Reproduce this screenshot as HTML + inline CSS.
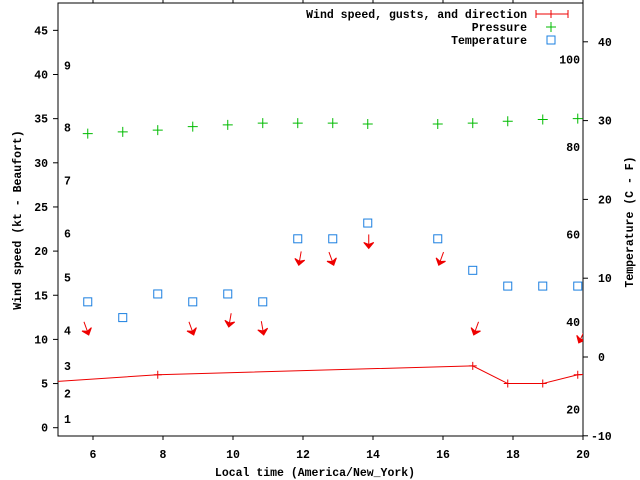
<!DOCTYPE html>
<html><head><meta charset="utf-8">
<style>
html,body{margin:0;padding:0;background:#fff;}
svg{display:block;}
text{font-family:"Liberation Mono","DejaVu Sans Mono",monospace;font-weight:bold;font-size:11.5px;fill:#000;}
</style></head>
<body>
<svg id="chart" width="640" height="480" xmlns="http://www.w3.org/2000/svg">
  <defs><clipPath id="plotclip"><rect x="58" y="3" width="525" height="433"/></clipPath></defs>
  <g id="grid"></g>
  <rect x="58" y="3" width="525" height="433" fill="none" stroke="#000" stroke-width="1"/>
  <g id="marks"></g>
  <text x="315" y="476" text-anchor="middle">Local time (America/New_York)</text>
  <text transform="translate(21,220) rotate(-90)" text-anchor="middle">Wind speed (kt - Beaufort)</text>
  <text transform="translate(633,222) rotate(-90)" text-anchor="middle">Temperature (C - F)</text>
  <g>
    <text x="527" y="18" text-anchor="end">Wind speed, gusts, and direction</text>
    <g>
      <line x1="536" y1="14" x2="568" y2="14" stroke="#e00" stroke-width="1"/>
      <line x1="536" y1="10" x2="536" y2="18" stroke="#e00"/>
      <line x1="568" y1="10" x2="568" y2="18" stroke="#e00"/>
      <line x1="551" y1="10" x2="551" y2="18" stroke="#e00"/>
    </g>
    <text x="527" y="31" text-anchor="end">Pressure</text>
    <g>
      <line x1="546" y1="27" x2="556" y2="27" stroke="#0b0"/><line x1="551" y1="22" x2="551" y2="32" stroke="#0b0"/>
    </g>
    <text x="527" y="44" text-anchor="end">Temperature</text>
    <rect x="547" y="36" width="8" height="8" fill="none" stroke="#1a7fe0"/>
  </g>
</svg>
<script>
const xTicks = [6, 8, 10, 12, 14, 16, 18, 20];
const yTicks = [0, 5, 10, 15, 20, 25, 30, 35, 40, 45];
const y2Ticks = [-10, 0, 10, 20, 30, 40];
const beaufortLabels = ["1","2","3","4","5","6","7","8","9"];
const beaufortKt = [1, 3.9, 7, 11, 17, 22, 28, 34, 41];
const fLabels = [20, 40, 60, 80, 100];
const windTimes = [4.85, 7.85, 16.85, 17.85, 18.85, 19.85, 20.85];
const windSpeeds = [5.2, 6, 7, 5, 5, 6, 6.3];
const windMarkerTimes = [7.85, 16.85, 17.85, 18.85, 19.85];
const windMarkerSpeeds = [6, 7, 5, 5, 6];
const pressTimes = [5.85, 6.85, 7.85, 8.85, 9.85, 10.85, 11.85, 12.85, 13.85, 15.85, 16.85, 17.85, 18.85, 19.85];
const pressValues = [33.3, 33.5, 33.7, 34.1, 34.3, 34.5, 34.5, 34.5, 34.4, 34.4, 34.5, 34.7, 34.9, 35.0];
const tempTimes = [5.85, 6.85, 7.85, 8.85, 9.85, 10.85, 11.85, 12.85, 13.85, 15.85, 16.85, 17.85, 18.85, 19.85];
const tempValues = [7, 5, 8, 7, 8, 7, 15, 15, 17, 15, 11, 9, 9, 9];
const arrowTimes = [5.85, 8.85, 9.85, 10.85, 11.85, 12.85, 13.85, 15.85, 16.85, 19.85];
const arrowKt = [10.5, 10.5, 11.4, 10.5, 18.4, 18.4, 20.3, 18.4, 10.5, 9.6];
const arrowDirDeg = [340, 340, 10, 350, 10, 340, 0, 20, 20, 25];

const X = t => 58 + (t - 5) * 35;
const Y = v => 427.7 - v * 8.83;
const Y2 = c => 357 - c * 7.88;
const NS = "http://www.w3.org/2000/svg";
const grid = document.getElementById('grid');
const marks = document.getElementById('marks');
function mk(tag, attrs, parent) {
  const e = document.createElementNS(NS, tag);
  for (const k in attrs) e.setAttribute(k, attrs[k]);
  parent.appendChild(e);
  return e;
}
xTicks.forEach(t => {
  const g = mk('g', {}, grid);
  
  
  mk('line', {x1: X(t), y1: 436, x2: X(t), y2: 440, stroke: '#000'}, g);
  mk('line', {x1: X(t), y1: 0, x2: X(t), y2: 3, stroke: '#000'}, g);
  const tx = mk('text', {x: X(t), y: 458, 'text-anchor': 'middle'}, g);
  tx.textContent = t;
});
yTicks.forEach(v => {
  const g = mk('g', {}, grid);
  
  
  mk('line', {x1: 53, y1: Y(v), x2: 58, y2: Y(v), stroke: '#000'}, g);
  const tx = mk('text', {x: 48, y: Y(v) + 4, 'text-anchor': 'end'}, g);
  tx.textContent = v;
});
y2Ticks.forEach(c => {
  const g = mk('g', {}, grid);
  
  
  mk('line', {x1: 583, y1: Y2(c), x2: 588, y2: Y2(c), stroke: '#000'}, g);
  const tx = mk('text', {x: c < 0 ? 591 : 598, y: Y2(c) + 4}, g);
  tx.textContent = c;
});
beaufortLabels.forEach((b, i) => {
  const tx = mk('text', {x: 64, y: Y(beaufortKt[i]) + 4}, grid);
  
  
  tx.textContent = b;
});
fLabels.forEach(f => {
  const tx = mk('text', {x: 580, y: Y2((f - 32) * 5 / 9) + 4, 'text-anchor': 'end'}, grid);
  
  
  tx.textContent = f;
});
const clipG = mk('g', {'clip-path': 'url(#plotclip)'}, marks);
const wl = mk('polyline', {points: windTimes.map((t, i) => X(t) + ',' + Y(windSpeeds[i])).join(' '), fill: 'none', stroke: '#e00', 'stroke-width': 1}, clipG);


windMarkerTimes.forEach((t, i) => {
  const p = mk('path', {d: `M${X(t)-4},${Y(windMarkerSpeeds[i])}h8M${X(t)},${Y(windMarkerSpeeds[i])-4}v8`, stroke: '#e00'}, clipG);
  
  
});
pressTimes.forEach((t, i) => {
  const x = X(t), y = Y(pressValues[i]);
  const p = mk('path', {d: `M${x-5},${y}h10M${x},${y-5}v10`, stroke: '#0b0'}, clipG);
  
  
});
tempTimes.forEach((t, i) => {
  const r = mk('rect', {x: X(t) - 4, y: Y2(tempValues[i]) - 4, width: 8, height: 8, fill: 'none', stroke: '#1a7fe0'}, clipG);
  
  
});
arrowTimes.forEach((t, i) => {
  const tipx = X(t) + 1, tipy = Y(arrowKt[i]);
  const a = arrowDirDeg[i] * Math.PI / 180;
  const dx = Math.sin(a), dy = -Math.cos(a);
  const L = 14;
  const g = mk('g', {}, clipG);
  
  
  mk('line', {x1: tipx + dx * L, y1: tipy + dy * L, x2: tipx, y2: tipy, stroke: '#e00', 'stroke-width': 1}, g);
  const px = -dy, py = dx;
  const bx = tipx + dx * 6, by = tipy + dy * 6;
  mk('polygon', {points: `${tipx},${tipy} ${bx + px * 5},${by + py * 5} ${tipx + dx * 4},${tipy + dy * 4} ${bx - px * 5},${by - py * 5}`, fill: '#e00', stroke: '#e00'}, g);
});
</script>
</body></html>
